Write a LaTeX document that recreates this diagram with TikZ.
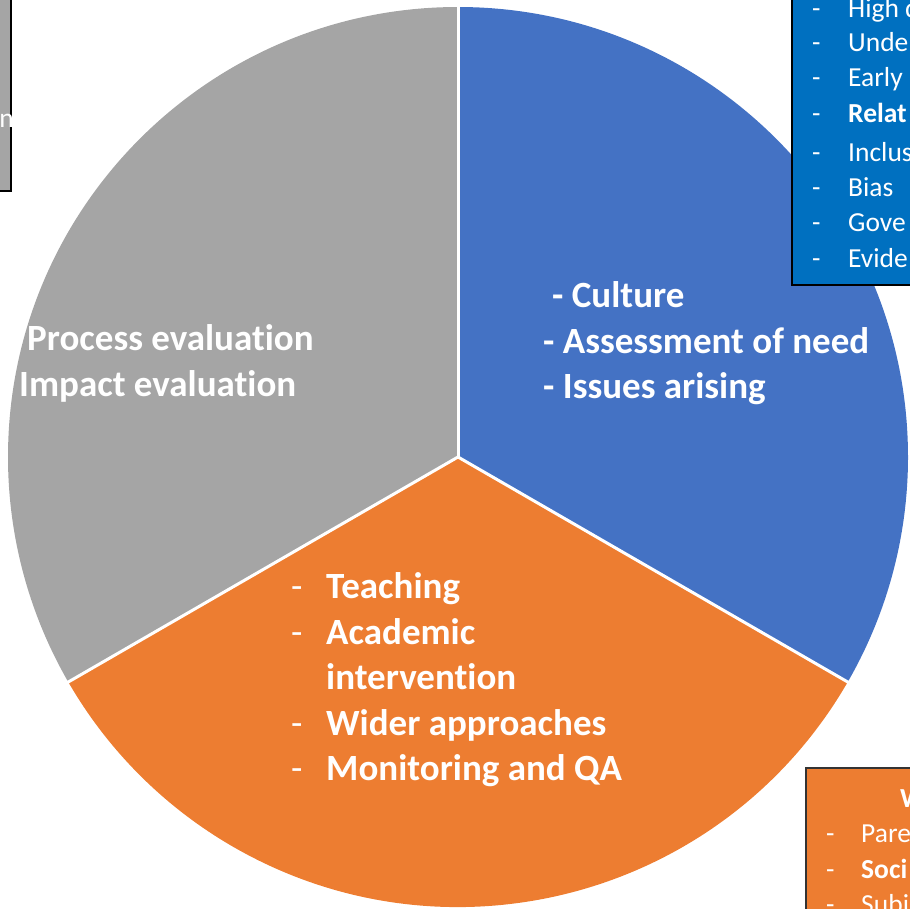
\documentclass[tikz,border=0pt]{standalone}
\usepackage{fontspec}
\setmainfont{Carlito}[Ligatures=NoCommon]
\definecolor{pieblue}{HTML}{4472C4}
\definecolor{pieorange}{HTML}{ED7D31}
\definecolor{piegray}{HTML}{A5A5A5}
\definecolor{boxblue}{HTML}{0070C0}
\tikzset{
  mainlbl/.style={text=white, font=\fontsize{37}{44}\selectfont\bfseries, anchor=base west, inner sep=0pt},
  maindash/.style={text=white, font=\fontsize{37}{44}\selectfont, anchor=base west, inner sep=0pt},
  boxlbl/.style={text=white, font=\fontsize{27.5}{33}\selectfont, anchor=base west, inner sep=0pt},
  boxbold/.style={boxlbl, font=\fontsize{27.5}{33}\selectfont\bfseries},
  sidebox/.style={line width=2.2pt},
  sep/.style={white, line width=3pt}
}
\begin{document}
\begin{tikzpicture}[x=1pt,y=-1pt]
\useasboundingbox (0,0) rectangle (910,909);
\clip (0,0) rectangle (910,909);
\coordinate (c) at (458,457);
% sectors (visual angle v -> theta = -v)
\fill[piegray] (c) -- ++(-90:450) arc[start angle=-90,end angle=-210,radius=450] -- cycle;
\fill[pieblue] (c) -- ++(-90:450) arc[start angle=-90,end angle=30,radius=450] -- cycle;
\fill[pieorange] (c) -- ++(30:450) arc[start angle=30,end angle=150,radius=450] -- cycle;
\draw[sep] (c) -- ++(-90:452);
\draw[sep] (c) -- ++(30:452);
\draw[sep] (c) -- ++(150:452);
% gray text
\node[mainlbl] (g1) at (27,350) {Process evaluation};
\node[mainlbl] (g2) at (19,396) {Impact evaluation};
% blue text
\node[mainlbl] (b1) at (552,308) {- Culture};
\node[mainlbl] (b2) at (543,353) {- Assessment of need};
\node[mainlbl] (b3) at (543,398) {- Issues arising};
% orange text
\node[maindash] (od1) at (291,598) {-};
\node[mainlbl] (o1) at (326,598) {Teaching};
\node[maindash] (od2) at (291,644) {-};
\node[mainlbl] (o2) at (326,644) {Academic};
\node[mainlbl] (o3) at (326,689) {intervention};
\node[maindash] (od4) at (291,735) {-};
\node[mainlbl] (o4) at (326,735) {Wider approaches};
\node[maindash] (od5) at (291,780) {-};
\node[mainlbl] (o5) at (326,780) {Monitoring and QA};
% top-left box
\draw[sidebox, fill=piegray, draw=black] (-10,-10) rectangle (11,191);
\node[boxlbl, anchor=base east] (tl) at (14,128) {on};
% top-right box
\draw[sidebox, fill=boxblue, draw=black] (792,-10) rectangle (930,285);
\foreach \yy/\tt/\st [count=\i] in {18/High q/boxlbl, 52/Under/boxlbl, 87/Early/boxlbl, 123/Relat/boxbold, 162/Inclus/boxlbl, 197/Bias/boxlbl, 232/Gove/boxlbl, 268/Evide/boxlbl}{
  \node[boxlbl] (trd\i) at (812,\yy) {-};
  \node[\st] (tr\i) at (848,\yy) {\tt};
}
% bottom-right box
\draw[sidebox, fill=pieorange, draw=black!80] (806,768) rectangle (930,930);
\node[boxbold] (brh) at (900,807) {W};
\node[boxlbl] (brd1) at (826,842) {-};
\node[boxlbl] (br1) at (861,842) {Pare};
\node[boxlbl] (brd2) at (826,878) {-};
\node[boxbold] (br2) at (861,878) {Soci};
\node[boxlbl] (brd3) at (826,913) {-};
\node[boxlbl] (br3) at (861,913) {Subj};
\end{tikzpicture}
\end{document}
